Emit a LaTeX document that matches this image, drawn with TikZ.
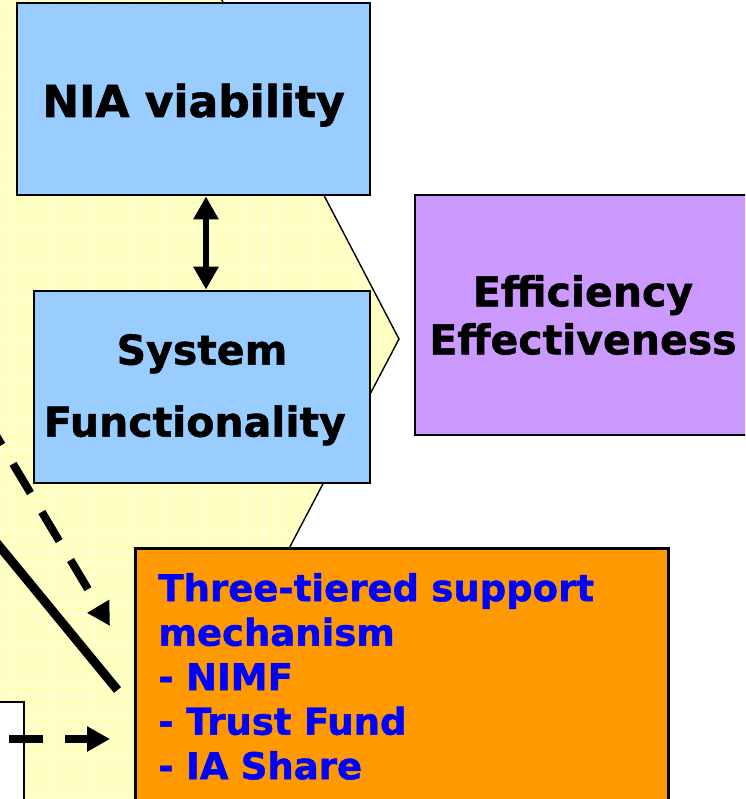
\documentclass[tikz,border=0pt]{standalone}
\usepackage{fontspec}
\setmainfont{DejaVu Sans}[BoldFeatures={FakeBold=1.2}]
\usetikzlibrary{arrows.meta}
\definecolor{boxblue}{HTML}{99CCFF}
\definecolor{boxpurple}{HTML}{CC99FF}
\definecolor{boxorange}{HTML}{FF9900}
\definecolor{textblue}{HTML}{0000FF}
\definecolor{hexfill}{HTML}{FFFFCC}
\definecolor{hexgrid}{HTML}{FFFFA3}
\begin{document}
\begin{tikzpicture}[x=1pt, y=-1pt, >={Triangle[length=23pt, width=24pt]},
    box/.style={draw, line width=2.8pt, inner sep=0pt},
    lead/.style={->, line width=8pt, dash pattern=on 34pt off 22pt}]

    \useasboundingbox (0,0) rectangle (745,799);
    \clip (0,0) rectangle (745,799);

    % yellow hexagon behind the boxes
    \coordinate (hextop) at (201,-40);
    \coordinate (hexright) at (399,339);
    \coordinate (hexbottom) at (136,840);
    \begin{scope}
        \clip (-40,-40) -- (hextop) -- (hexright) -- (hexbottom) -- (-40,840) -- cycle;
        \fill[hexfill] (-40,-40) rectangle (420,840);
        \foreach \gx in {0,...,41}
            \draw[hexgrid, line width=0.7pt] (6+10.15*\gx,-40) -- (6+10.15*\gx,840);
        \foreach \gy in {0,...,80}
            \draw[hexgrid, line width=0.7pt] (-40,-0.4+10.15*\gy) -- (420,-0.4+10.15*\gy);
    \end{scope}
    \draw[line width=1.4pt] (hextop) -- (hexright) -- (hexbottom);

    \node[box, fill=boxblue, minimum width=353pt, minimum height=192pt,
          font=\bfseries\fontsize{44}{53}\selectfont, text height=36pt, text depth=0pt]
        (nia) at (193.5,99) {NIA viability};
    \node[box, fill=boxblue, minimum width=336pt, minimum height=192pt, align=center,
          font=\bfseries\fontsize{41}{72}\selectfont]
        (sf) at (202,387) {\rule{0pt}{36pt}System\\Functionality\kern0.35em};
    \node[box, fill=boxpurple, minimum width=336pt, minimum height=240pt, align=center,
          font=\bfseries\fontsize{41}{48}\selectfont]
        (eff) at (583,315) {Efficiency\\Effectiveness};
    \node[box, fill=boxorange, anchor=north west, text width=487pt, inner xsep=23pt,
          minimum height=256pt, align=left, text=textblue,
          font=\bfseries\fontsize{37}{44.5}\selectfont]
        (tiers) at (134,547) {Three-tiered support\\mechanism\\- NIMF\\- Trust Fund\\- IA Share};
    \node[box, fill=white, line width=2pt, minimum width=84pt, minimum height=160pt]
        (leftbox) at (-18,782) {};

    \coordinate (axis) at (206,0);
    \draw[<->, line width=6pt] (nia.south -| axis) -- (sf.north -| axis);

    \coordinate (diagstart) at (-15.7,415.8);
    \coordinate (diagtip) at (110,626);
    \draw[lead] (diagstart) -- (diagtip);

    \coordinate (flowstart) at (9,739);
    \draw[lead] (flowstart) -- (diagtip |- flowstart);

    \coordinate (barstart) at (-20,522.6);
    \coordinate (barend) at (117.5,690);
    \draw[line width=9pt] (barstart) -- (barend);

\end{tikzpicture}
\end{document}
